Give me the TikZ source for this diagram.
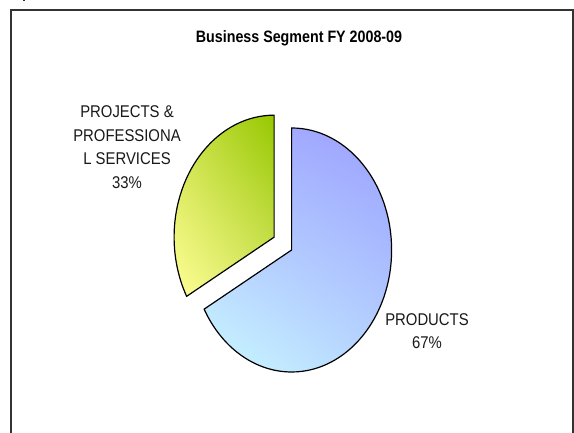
\documentclass[tikz,border=0pt]{standalone}
\usepackage{fontspec}
\setmainfont{Liberation Sans}
\usetikzlibrary{shadings}
\definecolor{produl}{RGB}{168,178,255}
\definecolor{produr}{RGB}{155,160,255}
\definecolor{prodll}{RGB}{202,250,255}
\definecolor{prodlr}{RGB}{182,212,255}
\definecolor{projul}{RGB}{205,225,75}
\definecolor{projur}{RGB}{150,200,0}
\definecolor{projll}{RGB}{255,255,150}
\definecolor{projlr}{RGB}{215,230,100}
\begin{document}
\begin{tikzpicture}[x=1pt,y=1pt,
  slice/.style={draw=black,line width=1.2pt,line join=miter},
  seglabel/.style={font=\fontsize{17}{23.5}\selectfont,align=center,xscale=0.875,inner sep=0pt,text=black!90}]
\useasboundingbox (0,0) rectangle (574,433);
\clip (0,0) rectangle (574,433);

% chart frame
\draw[line width=1.3pt,black!80] (11,-5) -- (11,423) -- (573,423) -- (573,-5);
\fill[black!80] (23,431.5) rectangle (25,433);

\node[font=\bfseries\fontsize{16.5}{20}\selectfont,xscale=0.865,anchor=base,inner sep=0pt] (title) at (299,390.3) {Business Segment FY 2008-09};

% slices
\coordinate (prodc) at (291.6,183);
\coordinate (projc) at (274.1,195.8);
\shade[slice,upper left=produl,upper right=produr,lower left=prodll,lower right=prodlr]
  (prodc) -- ++(0,122) arc[start angle=90,end angle=-151,x radius=100,y radius=122] -- cycle;
\shade[slice,upper left=projul,upper right=projur,lower left=projll,lower right=projlr]
  (projc) -- ++(0,122) arc[start angle=90,end angle=209,x radius=100,y radius=122] -- cycle;

% labels
\node[seglabel] (projlbl) at (127,286) {PROJECTS \&\\PROFESSIONA\\L SERVICES\\33\%};
\node[seglabel] (prodlbl) at (427,102) {PRODUCTS\\67\%};
\end{tikzpicture}
\end{document}
